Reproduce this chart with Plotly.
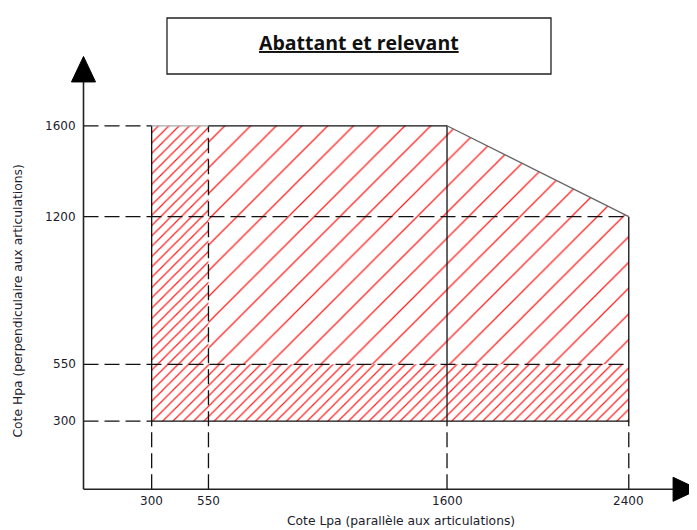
import plotly.graph_objects as go

# ---- data ----
x_ticks = [300, 550, 1600, 2400]
y_ticks = [300, 550, 1200, 1600]
x_tick_labels = ["300", "550", "1600", "2400"]
y_tick_labels = ["300", "550", "1200", "1600"]

# outline of the allowed domain (Lpa, Hpa)
region_x = [300, 300, 1600, 2400, 2400]
region_y = [300, 1600, 1600, 1200, 300]
dense_limit = 550          # below / left of this the hatch is denser
split_x = 1600             # interior solid vertical line

title = "Abattant et relevant"
x_title = "Cote Lpa (parallèle aux articulations)"
y_title = "Cote Hpa (perpendiculaire aux articulations)"

# ---- geometry (layout) ----
OFF = 8                    # page body margin
W, H = 697 - OFF, 530 - OFF
scale = 0.2272             # px per unit
x0_px, y0_px = 83.5 - OFF, 489.3 - OFF
xr = [(0 - x0_px) / scale, (W - x0_px) / scale]
yr = [(y0_px - H) / scale, y0_px / scale]


def px(x):
    return (x - OFF) / W


def py(y):
    return 1 - (y - OFF) / H


xmin, xmax = region_x[0], max(region_x)
ymin, ymax = region_y[0], max(region_y)
y_at_xmax = region_y[3]

fig = go.Figure()

hatch = "#ff1f1f"
# sparse hatch (main area)
sp_x = [dense_limit, dense_limit, split_x, xmax, xmax, dense_limit]
sp_y = [dense_limit, ymax, ymax, y_at_xmax, dense_limit, dense_limit]
fig.add_trace(go.Scatter(x=sp_x, y=sp_y, mode="lines", fill="toself",
                         line=dict(width=0, color="rgba(0,0,0,0)"),
                         fillcolor="rgba(0,0,0,0)",
                         fillpattern=dict(shape="/", size=18.2, solidity=0.07,
                                          fgcolor=hatch, fgopacity=1,
                                          bgcolor="rgba(0,0,0,0)"),
                         hoverinfo="skip", showlegend=False))
# dense hatch (L-shaped strip)
dn_x = [xmin, xmin, dense_limit, dense_limit, xmax, xmax, xmin]
dn_y = [ymin, ymax, ymax, dense_limit, dense_limit, ymin, ymin]
fig.add_trace(go.Scatter(x=dn_x, y=dn_y, mode="lines", fill="toself",
                         line=dict(width=0, color="rgba(0,0,0,0)"),
                         fillcolor="rgba(0,0,0,0)",
                         fillpattern=dict(shape="/", size=7.3, solidity=0.17,
                                          fgcolor=hatch, fgopacity=1,
                                          bgcolor="rgba(0,0,0,0)"),
                         hoverinfo="skip", showlegend=False))

# dashed reference lines
dash = "15px,6px"
dx, dy = [], []
for yv in y_ticks:
    xe = xmax if yv in (dense_limit, y_at_xmax) else xmin
    dx += [0, xe, None]
    dy += [yv, yv, None]
for xv in x_ticks:
    ye = ymax if xv == dense_limit else ymin
    dx += [xv, xv, None]
    dy += [0, ye, None]
fig.add_trace(go.Scatter(x=dx, y=dy, mode="lines",
                         line=dict(color="#111111", width=1.3, dash=dash),
                         hoverinfo="skip", showlegend=False))

# solid outline
fig.add_trace(go.Scatter(x=[xmin, xmin, xmax, xmax], y=[ymax, ymin, ymin, y_at_xmax],
                         mode="lines", line=dict(color="#111111", width=1.3),
                         hoverinfo="skip", showlegend=False))
fig.add_trace(go.Scatter(x=[dense_limit, split_x, None, split_x, split_x],
                         y=[ymax, ymax, None, ymin, ymax],
                         mode="lines", line=dict(color="#111111", width=1.3),
                         hoverinfo="skip", showlegend=False))
fig.add_trace(go.Scatter(x=[xmin, dense_limit], y=[ymax, ymax],
                         mode="lines", line=dict(color="#aaaaaa", width=1.3),
                         hoverinfo="skip", showlegend=False))
fig.add_trace(go.Scatter(x=[split_x, xmax], y=[ymax, y_at_xmax],
                         mode="lines", line=dict(color="#666666", width=1.3),
                         hoverinfo="skip", showlegend=False))

# axes with arrows
x_axis_end = 2595
y_axis_end = 1793
arr_len = 112
arr_half = 53
fig.add_trace(go.Scatter(x=[0, 0, None, 0, x_axis_end], y=[y_axis_end, 0, None, 0, 0],
                         mode="lines", line=dict(color="#222222", width=1.6),
                         hoverinfo="skip", showlegend=False))
fig.add_trace(go.Scatter(x=[-arr_half, arr_half, 0, -arr_half],
                         y=[y_axis_end, y_axis_end, y_axis_end + arr_len, y_axis_end],
                         mode="lines", fill="toself", fillcolor="black",
                         line=dict(color="black", width=1),
                         hoverinfo="skip", showlegend=False))
fig.add_trace(go.Scatter(x=[x_axis_end, x_axis_end, x_axis_end + arr_len, x_axis_end],
                         y=[-arr_half, arr_half, 0, -arr_half],
                         mode="lines", fill="toself", fillcolor="black",
                         line=dict(color="black", width=1),
                         hoverinfo="skip", showlegend=False))

tick_font = dict(family="DejaVu Sans", size=12, color="#1c1c2c")
title_font = dict(family="DejaVu Sans", size=12.3, color="#1c1c2c")
ann = []
for xv, lab in zip(x_ticks, x_tick_labels):
    ann.append(dict(x=xv, y=0, xref="x", yref="y", text=lab, showarrow=False,
                    font=tick_font, xanchor="center", yanchor="middle", yshift=-12))
for yv, lab in zip(y_ticks, y_tick_labels):
    ann.append(dict(x=0, y=yv, xref="x", yref="y", text=lab, showarrow=False,
                    font=tick_font, xanchor="right", yanchor="middle", xshift=-6))
ann.append(dict(x=px(401), y=py(521), xref="paper", yref="paper", text=x_title,
                showarrow=False, font=title_font, xanchor="center", yanchor="middle"))
ann.append(dict(x=px(17.5), y=py(301), xref="paper", yref="paper", text=y_title,
                showarrow=False, font=title_font, xanchor="center", yanchor="middle",
                textangle=-90))
ann.append(dict(x=px(359), y=py(42), xref="paper", yref="paper",
                text="<b><u>" + title + "</u></b>", showarrow=False,
                font=dict(family="Open Sans", size=19.5, color="#111111"),
                xanchor="center", yanchor="middle"))

shapes = [dict(type="rect", xref="paper", yref="paper",
               x0=px(167), x1=px(551), y0=py(74), y1=py(18),
               line=dict(color="#222222", width=1.3), fillcolor="rgba(0,0,0,0)")]

fig.update_layout(width=W, height=H, margin=dict(l=0, r=0, t=0, b=0),
                  paper_bgcolor="white", plot_bgcolor="white",
                  xaxis=dict(range=xr, visible=False, fixedrange=True),
                  yaxis=dict(range=yr, visible=False, fixedrange=True),
                  annotations=ann, shapes=shapes, showlegend=False)

fig.write_html("out.html", config={"displayModeBar": False})
